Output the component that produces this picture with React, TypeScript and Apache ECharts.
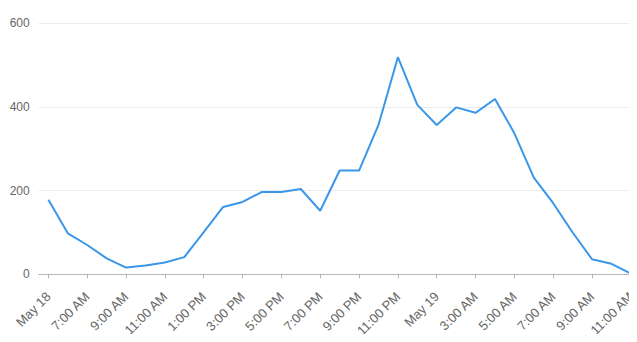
import React, { useEffect, useRef } from "react";
import * as echarts from "echarts";

const categories: string[] = [
  "May 18", "6:00 AM", "7:00 AM", "8:00 AM", "9:00 AM", "10:00 AM", "11:00 AM", "12:00 PM",
  "1:00 PM", "2:00 PM", "3:00 PM", "4:00 PM", "5:00 PM", "6:00 PM", "7:00 PM", "8:00 PM",
  "9:00 PM", "10:00 PM", "11:00 PM", "12:00 AM", "May 19", "2:00 AM", "3:00 AM", "4:00 AM",
  "5:00 AM", "6:00 AM", "7:00 AM", "8:00 AM", "9:00 AM", "10:00 AM", "11:00 AM", "12:00 PM",
];

const values: number[] = [
  178, 98, 70, 38, 16, 21, 28, 41,
  101, 161, 173, 197, 197, 204, 152, 248,
  248, 357, 519, 405, 357, 399, 386, 419,
  337, 231, 170, 100, 36, 25, 2, 0,
];

const yTicks = { min: 0, max: 600, interval: 200 };

export default function App() {
  const ref = useRef<HTMLDivElement>(null);
  useEffect(() => {
    if (!ref.current) return;
    const chart = echarts.init(ref.current, null, { renderer: "svg" });
    chart.setOption({
      animation: false,
      grid: { left: 38.7, right: 0, top: 23.3, bottom: 67.7, containLabel: false },
      xAxis: {
        type: "category",
        data: categories,
        boundaryGap: true,
        axisLine: { lineStyle: { color: "#b8b8b8", width: 1 } },
        axisTick: { show: true, interval: 1, alignWithLabel: true, length: 4, lineStyle: { color: "#b8b8b8" } },
        axisLabel: {
          interval: 1,
          rotate: 45,
          margin: 20,
          color: "#666",
          fontSize: 13,
          fontFamily: "Liberation Sans, Arial, sans-serif",
        },
      },
      yAxis: {
        type: "value",
        min: yTicks.min,
        max: yTicks.max,
        interval: yTicks.interval,
        axisLine: { show: false },
        axisTick: { show: false },
        splitLine: { lineStyle: { color: "#ebebeb", width: 1 } },
        axisLabel: {
          margin: 9,
          color: "#666",
          fontSize: 12,
          fontFamily: "Liberation Sans, Arial, sans-serif",
        },
      },
      series: [
        {
          type: "line",
          data: values,
          showSymbol: false,
          symbol: "none",
          lineStyle: { color: "#3a97e8", width: 2 },
          itemStyle: { color: "#3a97e8" },
        },
      ],
    });
    return () => chart.dispose();
  }, []);
  return (
    <div style={{ margin: -8, width: 637, height: 342, overflow: "hidden" }}>
      <div ref={ref} style={{ width: 659.5, height: 342 }} />
    </div>
  );
}
